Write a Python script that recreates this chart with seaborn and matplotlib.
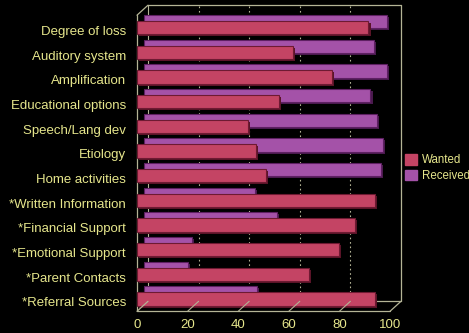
import matplotlib
matplotlib.use("Agg")
import matplotlib.pyplot as plt
import matplotlib.transforms as mtransforms
import matplotlib.patheffects as pe
from matplotlib.patches import Patch
import seaborn as sns
import pandas as pd

categories = ["Degree of loss", "Auditory system", "Amplification", "Educational options",
              "Speech/Lang dev", "Etiology", "Home activities", "*Written Information",
              "*Financial Support", "*Emotional Support", "*Parent Contacts", "*Referral Sources"]
wanted = [91.5, 61.5, 77, 56, 44, 47, 51, 94, 86, 80, 68, 94]
received = [96, 91, 96, 89.5, 92, 94.5, 93.5, 44, 52.5, 19, 17.5, 44.5]
x_ticks = [0, 20, 40, 60, 80, 100]

df = pd.DataFrame({"Category": categories, "Wanted": wanted, "Received": received})

TXT = "#E6E68C"
FRAME = "#B4B496"
C_W = "#C44464"
C_R = "#A452A8"

sns.set_theme(style="white")
plt.rcParams["font.family"] = ["Liberation Sans", "DejaVu Sans"]

W, H = 469, 333
fig = plt.figure(figsize=(W / 100, H / 100), dpi=100, facecolor="black")
x0, x1 = 137, 390
ytop, ybot = 15.2, 311.3
ax = fig.add_axes([x0 / W, (H - ybot) / H, (x1 - x0) / W, (ybot - ytop) / H])
ax.set_facecolor("black")

def off(dx, dy):
    return mtransforms.ScaledTranslation(dx / 100, dy / 100, fig.dpi_scale_trans)

DX, DY = 11, 10  # back plane depth
xf = ax.get_xaxis_transform()
# back-plane gridlines (dotted)
for v in x_ticks[1:-1]:
    ax.plot([v, v], [0, 1], color=FRAME, lw=0.8, ls=(0, (1.5, 2.5)), zorder=0,
            transform=xf + off(DX, DY), clip_on=False, scalex=False, scaley=False)
ax.plot([0, 0], [0, 1], color=FRAME, lw=0.8, zorder=0,
        transform=xf + off(DX, DY), clip_on=False, scalex=False, scaley=False)

# Received bars (behind)
sns.barplot(data=df, x="Received", y="Category", orient="h", color=C_R,
            width=0.54, saturation=1, ax=ax, edgecolor="#5E2062", linewidth=0.8)
n_r = len(ax.patches)
for p in ax.patches[:n_r]:
    p.set_transform(ax.transData + off(7, 6))
    p.set_zorder(1)
    p.set_clip_on(False)
    p.set_path_effects([pe.SimplePatchShadow(offset=(1.5, -1.5), shadow_rgbFace="#4A1A4E", alpha=1), pe.Normal()])

# Wanted bars (front)
sns.barplot(data=df, x="Wanted", y="Category", orient="h", color=C_W,
            width=0.54, saturation=1, ax=ax, edgecolor="#6E1A32", linewidth=0.8)
for p in ax.patches[n_r:]:
    p.set_zorder(2)
    p.set_clip_on(False)
    p.set_path_effects([pe.SimplePatchShadow(offset=(1.5, -1.5), shadow_rgbFace="#5A1428", alpha=1), pe.Normal()])

ax.set_xlim(0, 100)
ax.set_ylim(len(categories) - 0.5, -0.5)
ax.set_xticks(x_ticks)
ax.set_xticklabels([str(t) for t in x_ticks])
ax.set_xlabel("")
ax.set_ylabel("")
ax.tick_params(axis="x", length=0, pad=5.5, labelsize=9.5, labelcolor=TXT)
ax.tick_params(axis="y", length=0, pad=8, labelsize=9.5, labelcolor=TXT)
for s in ax.spines.values():
    s.set_visible(False)

# 3D frame
ta = ax.transAxes
tb = ax.transAxes + off(DX, DY)
kw = dict(color=FRAME, lw=0.9, clip_on=False, zorder=0.5)
ax.plot([0, 0], [0, 1], transform=ta, **kw)                # front left
ax.plot([0, 1], [0, 0], transform=ta, **kw)                # front floor edge
ax.plot([0, 1], [1, 1], transform=tb, **kw)                # back top
ax.plot([1, 1], [0, 1], transform=tb, **kw)                # back right
ax.plot([0, 1], [0, 0], transform=tb, **kw)                # back floor edge

fig.canvas.draw()
for t in ax.yaxis.get_major_ticks():
    t.label1.set_transform(t.label1.get_transform() + off(0, -3))

for (xa, ya) in [(0, 1), (0, 0), (1, 0)]:
    pa = ta.transform((xa, ya))
    pb = tb.transform((xa, ya))
    fig.add_artist(plt.Line2D([pa[0] / W, pb[0] / W], [pa[1] / H, pb[1] / H],
                              transform=fig.transFigure, color=FRAME, lw=0.9))
for v in x_ticks[1:-1]:
    pa = xf.transform((v, 0))
    pb = (xf + off(DX, DY)).transform((v, 0))
    fig.add_artist(plt.Line2D([pa[0] / W, pb[0] / W], [pa[1] / H, pb[1] / H],
                              transform=fig.transFigure, color=FRAME, lw=0.8))

handles = [Patch(facecolor=C_W, edgecolor=C_W, label="Wanted"),
           Patch(facecolor=C_R, edgecolor=C_R, label="Received")]
leg = fig.legend(handles=handles, loc="upper left", bbox_to_anchor=(395 / W, 1 - 144 / H),
                 frameon=False, fontsize=8.3, handlelength=1.0, handleheight=1.0,
                 handletextpad=0.45, labelspacing=0.3, labelcolor=TXT)

fig.savefig("out.png", dpi=100, facecolor="black")
